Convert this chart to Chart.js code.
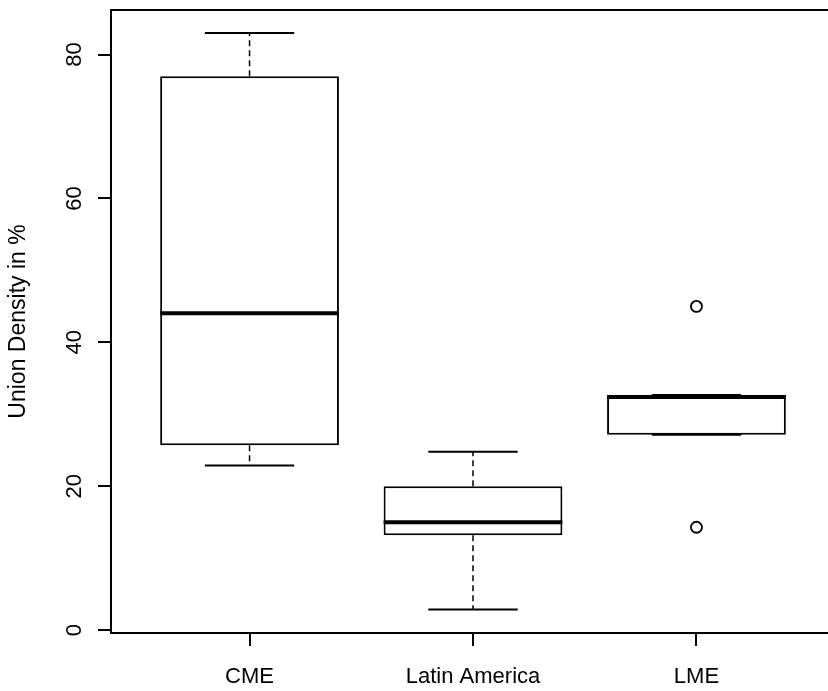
<!DOCTYPE html>
<html>
<head>
<meta charset="utf-8">
<script src="https://cdn.jsdelivr.net/npm/chart.js@4/dist/chart.umd.min.js"></script>
<style>
html,body{margin:0;padding:0;background:#fff;overflow:hidden;}
#wrap{width:850px;height:691px;}
</style>
</head>
<body>
<div id="wrap"><canvas id="c" width="850" height="691"></canvas></div>
<script>
const categories = ['CME', 'Latin America', 'LME'];
const whiskerLow = [22.9, 2.85, 27.15];
const q1 = [25.7, 13.2, 27.15];
const median = [44.05, 15.0, 32.4];
const q3 = [77.0, 20.0, 32.7];
const whiskerHigh = [83.0, 24.8, 32.7];
const outlierGroup = [3, 3];
const outlierValue = [45.0, 14.3];
const yTicks = [0, 20, 40, 60, 80];
const yTitle = 'Union Density in %';

const FONT = "'Liberation Sans', Arial, sans-serif";

const boxPlugin = {
  id: 'boxPlugin',
  beforeDatasetsDraw(chart) {
    const ctx = chart.ctx, x = chart.scales.x, y = chart.scales.y;
    ctx.save();
    ctx.strokeStyle = '#000';
    for (let i = 0; i < categories.length; i++) {
      const cx = x.getPixelForValue(i + 1);
      const capL = x.getPixelForValue(i + 1 - 0.2), capR = x.getPixelForValue(i + 1 + 0.2);
      ctx.lineWidth = 1.5;
      ctx.setLineDash([6, 4]);
      ctx.beginPath();
      ctx.moveTo(cx, y.getPixelForValue(q3[i]));
      ctx.lineTo(cx, y.getPixelForValue(whiskerHigh[i]));
      ctx.moveTo(cx, y.getPixelForValue(q1[i]));
      ctx.lineTo(cx, y.getPixelForValue(whiskerLow[i]));
      ctx.stroke();
      ctx.setLineDash([]);
      ctx.lineWidth = 2;
      ctx.beginPath();
      let yy = y.getPixelForValue(whiskerHigh[i]);
      ctx.moveTo(capL, yy); ctx.lineTo(capR, yy);
      yy = y.getPixelForValue(whiskerLow[i]);
      ctx.moveTo(capL, yy); ctx.lineTo(capR, yy);
      ctx.stroke();
    }
    ctx.restore();
  },
  afterDatasetsDraw(chart) {
    const ctx = chart.ctx, x = chart.scales.x, y = chart.scales.y;
    ctx.save();
    ctx.strokeStyle = '#000';
    ctx.lineWidth = 4;
    for (let i = 0; i < categories.length; i++) {
      const l = x.getPixelForValue(i + 1 - 0.4), r = x.getPixelForValue(i + 1 + 0.4);
      const yy = y.getPixelForValue(median[i]);
      ctx.beginPath(); ctx.moveTo(l, yy); ctx.lineTo(r, yy); ctx.stroke();
    }
    const a = chart.chartArea;
    ctx.lineWidth = 2;
    ctx.strokeRect(a.left, a.top, a.right - a.left, a.bottom - a.top);
    ctx.fillStyle = '#000';
    ctx.font = '22px ' + FONT;
    ctx.textAlign = 'center';
    ctx.textBaseline = 'middle';
    y.ticks.forEach(t => {
      const py = y.getPixelForValue(t.value);
      ctx.save();
      ctx.translate(75, py);
      ctx.rotate(-Math.PI / 2);
      ctx.fillText(String(t.value), 0, 0);
      ctx.restore();
    });
    ctx.restore();
  }
};

new Chart(document.getElementById('c'), {
  data: {
    datasets: [
      {
        type: 'bar',
        data: categories.map((c, i) => ({ x: i + 1, y: [q1[i], q3[i]] })),
        backgroundColor: '#fff',
        borderColor: '#000',
        borderWidth: 2,
        borderSkipped: false,
        categoryPercentage: 1,
        barPercentage: 0.8,
        order: 2
      },
      {
        type: 'scatter',
        data: outlierValue.map((v, i) => ({ x: outlierGroup[i], y: v })),
        pointStyle: 'circle',
        pointRadius: 5.5,
        pointBorderWidth: 1.8,
        pointBorderColor: '#000',
        pointBackgroundColor: 'rgba(0,0,0,0)',
        order: 1
      }
    ]
  },
  options: {
    responsive: false,
    animation: false,
    devicePixelRatio: 1,
    layout: { padding: { left: 0, top: 10, right: 15, bottom: 0 } },
    plugins: { legend: { display: false }, tooltip: { enabled: false } },
    scales: {
      x: {
        type: 'linear',
        offset: false,
        min: 0.38, max: 3.62,
        afterBuildTicks: s => { s.ticks = categories.map((c, i) => ({ value: i + 1 })); },
        afterFit: s => { s.height = 58; },
        grid: { display: true, offset: false, drawOnChartArea: false, drawTicks: true, tickLength: 13, color: '#000', lineWidth: 2 },
        border: { display: false },
        ticks: {
          callback: v => categories[v - 1],
          color: '#000',
          font: { family: FONT, size: 22 },
          padding: 18,
          maxRotation: 0, minRotation: 0
        }
      },
      y: {
        type: 'linear',
        min: -0.4, max: 86.2,
        afterBuildTicks: s => { s.ticks = yTicks.map(v => ({ value: v })); },
        afterFit: s => { s.width = 111; },
        grid: { display: true, drawOnChartArea: false, drawTicks: true, tickLength: 13, color: '#000', lineWidth: 2 },
        border: { display: false },
        ticks: { display: false },
        title: {
          display: true,
          text: yTitle,
          color: '#000',
          font: { family: FONT, size: 23 },
          padding: { top: 5, bottom: 0 }
        }
      }
    }
  },
  plugins: [boxPlugin]
});
</script>
</body>
</html>
